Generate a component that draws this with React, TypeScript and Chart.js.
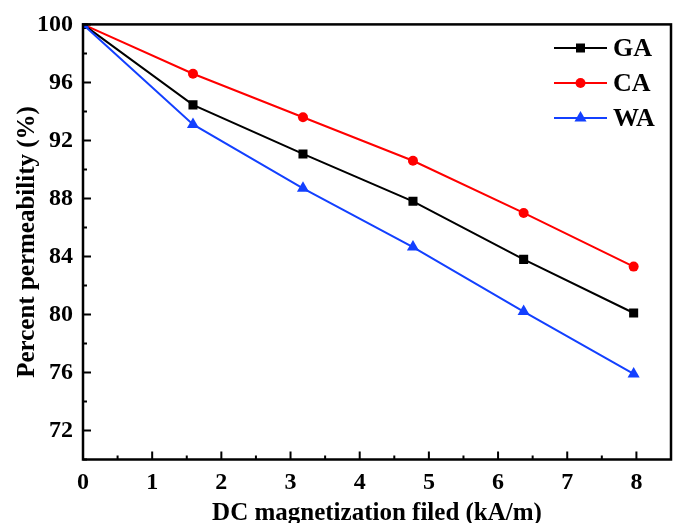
import React, { useEffect, useRef } from "react";
import { Chart, registerables } from "chart.js";

Chart.register(...registerables);

// DC bias field (kA/m)
const fieldKAm = [0, 1.59, 3.18, 4.77, 6.37, 7.96];
// Percent permeability (%) for each sample
const gaValues = [100, 94.45, 91.07, 87.8, 83.8, 80.1];
const caValues = [100, 96.6, 93.6, 90.6, 87.0, 83.3];
const waValues = [100, 93.1, 88.7, 84.65, 80.2, 75.9];

const seriesNames = ["GA", "CA", "WA"];
const seriesColors = ["#000000", "#ff0000", "#1340ff"];
const seriesShapes = ["rect", "circle", "triangle"];

const xTitle = "DC magnetization filed (kA/m)";
const yTitle = "Percent permeability (%)";

const SERIF = "'Liberation Serif', 'Times New Roman', serif";

function drawMarker(ctx: CanvasRenderingContext2D, shape: string, x: number, y: number, color: string) {
  ctx.save();
  ctx.fillStyle = color;
  ctx.beginPath();
  if (shape === "rect") {
    ctx.rect(x - 4.5, y - 4.5, 9, 9);
  } else if (shape === "circle") {
    ctx.arc(x, y, 5, 0, Math.PI * 2);
  } else {
    const r = 7;
    ctx.moveTo(x, y - r);
    ctx.lineTo(x + 0.866 * r, y + 0.5 * r);
    ctx.lineTo(x - 0.866 * r, y + 0.5 * r);
    ctx.closePath();
  }
  ctx.fill();
  ctx.restore();
}

// Frame, inward ticks and legend
const framePlugin = {
  id: "frameAndTicks",
  afterDatasetsDraw(chart: any) {
    const { ctx, chartArea } = chart;
    const { left, right, top, bottom } = chartArea;
    const xs = chart.scales.x;
    const ys = chart.scales.y;
    ctx.save();
    ctx.strokeStyle = "#000";
    ctx.lineWidth = 2;
    ctx.lineCap = "butt";

    // x ticks
    const xMajor: number[] = xs.ticks.map((t: any) => t.value);
    ctx.beginPath();
    xMajor.forEach((v) => {
      const px = xs.getPixelForValue(v);
      ctx.moveTo(px, bottom);
      ctx.lineTo(px, bottom - 8);
      const mpx = xs.getPixelForValue(v + 0.5);
      if (mpx < right - 2) {
        ctx.moveTo(mpx, bottom);
        ctx.lineTo(mpx, bottom - 4);
      }
    });
    // y ticks
    const yMajor: number[] = ys.ticks.map((t: any) => t.value);
    yMajor.forEach((v) => {
      const py = ys.getPixelForValue(v);
      ctx.moveTo(left, py);
      ctx.lineTo(left + 8, py);
      const mpy = ys.getPixelForValue(v - 2);
      if (mpy <= bottom + 0.5) {
        ctx.moveTo(left, mpy);
        ctx.lineTo(left + 4, mpy);
      }
    });
    ctx.stroke();

    // frame
    ctx.lineWidth = 2.5;
    ctx.strokeRect(left, top, right - left, bottom - top);

    // legend
    const lx0 = 554;
    const lx1 = 607;
    const rows = [48, 83, 118];
    ctx.font = `bold 26px ${SERIF}`;
    ctx.textBaseline = "middle";
    ctx.textAlign = "left";
    seriesNames.forEach((name, i) => {
      const y = rows[i];
      ctx.strokeStyle = seriesColors[i];
      ctx.lineWidth = 2;
      ctx.beginPath();
      ctx.moveTo(lx0, y);
      ctx.lineTo(lx1, y);
      ctx.stroke();
      drawMarker(ctx, seriesShapes[i], (lx0 + lx1) / 2, y, seriesColors[i]);
      ctx.fillStyle = "#000";
      ctx.fillText(name, 613, y + 1);
    });
    ctx.restore();
  },
};

export default function App() {
  const canvasRef = useRef<HTMLCanvasElement | null>(null);

  useEffect(() => {
    const canvas = canvasRef.current;
    if (!canvas) return;
    const values = [gaValues, caValues, waValues];
    const orders = [1, 2, 0];
    const radii = [6.4, 5, 7];

    const chart = new Chart(canvas, {
      type: "line",
      data: {
        datasets: seriesNames.map((name, i) => ({
          label: name,
          data: fieldKAm.map((x, k) => ({ x, y: values[i][k] })),
          borderColor: seriesColors[i],
          backgroundColor: seriesColors[i],
          borderWidth: 2,
          pointStyle: seriesShapes[i] as any,
          pointRadius: radii[i],
          pointBorderWidth: 0,
          tension: 0,
          order: orders[i],
          clip: 1,
        })),
      },
      options: {
        responsive: false,
        animation: false,
        devicePixelRatio: 1,
        layout: { padding: { top: 24, right: 5, left: 0, bottom: 0 } },
        plugins: {
          legend: { display: false },
          tooltip: { enabled: false },
        },
        scales: {
          x: {
            type: "linear",
            min: 0,
            max: 8.5,
            grid: { display: false, drawTicks: false },
            border: { display: false },
            ticks: {
              stepSize: 1,
              includeBounds: false,
              autoSkip: false,
              maxRotation: 0,
              padding: 9,
              color: "#000",
              font: { family: SERIF, size: 24, weight: "bold" },
            },
            title: {
              display: true,
              text: xTitle,
              color: "#000",
              font: { family: SERIF, size: 25, weight: "bold", lineHeight: 1 },
              padding: { top: 0, bottom: -3 },
            },
            afterFit: (scale: any) => {
              scale.height = 63.5;
            },
          },
          y: {
            type: "linear",
            min: 70,
            max: 100,
            grid: { display: false, drawTicks: false },
            border: { display: false },
            ticks: {
              stepSize: 4,
              includeBounds: false,
              autoSkip: false,
              padding: 10,
              color: "#000",
              font: { family: SERIF, size: 24, weight: "bold" },
            },
            title: {
              display: true,
              text: yTitle,
              color: "#000",
              font: { family: SERIF, size: 25, weight: "bold", lineHeight: 1 },
              padding: { top: 15, bottom: 0 },
            },
            afterFit: (scale: any) => {
              scale.width = 83;
            },
          },
        },
      },
      plugins: [framePlugin],
    });

    return () => {
      chart.destroy();
    };
  }, []);

  return (
    <div style={{ position: "absolute", left: 0, top: 0, width: 678, height: 523, background: "#fff" }}>
      <canvas ref={canvasRef} width={678} height={523} style={{ width: 678, height: 523, display: "block" }} />
    </div>
  );
}
